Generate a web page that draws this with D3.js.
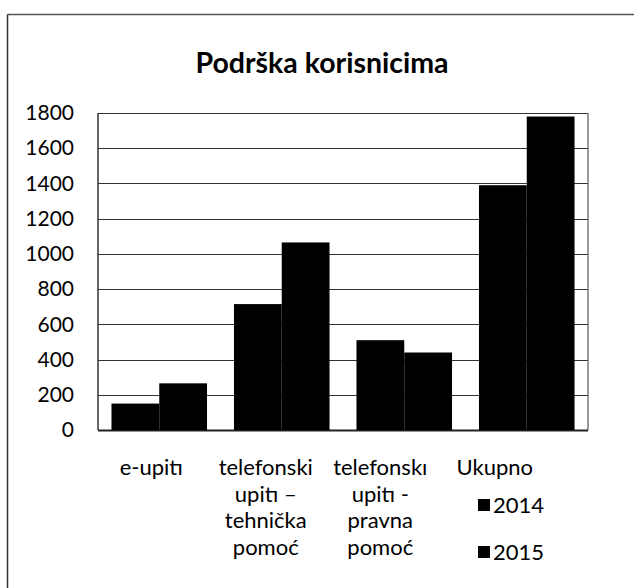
<!DOCTYPE html>
<html>
<head>
<meta charset="utf-8">
<script src="https://cdn.jsdelivr.net/npm/d3@7"></script>
<style>
body{margin:0;background:#fff;}
svg{display:block;font-family:Lato,"Noto Sans",sans-serif;}
</style>
</head>
<body>
<div id="chart"></div>
<script>
var categories=["e-upiti","telefonski upiti – tehnička pomoć","telefonski upiti - pravna pomoć","Ukupno"];
var labelLines=[["e-upitı"],["telefonski","upitı –","tehnička","pomoć"],["telefonskı","upitı -","pravna","pomoć"],["Ukupno"]];
var years=["2014","2015"];
var values2014=[150,715,510,1390];
var values2015=[265,1065,440,1780];
var yTicks=[0,200,400,600,800,1000,1200,1400,1600,1800];

var width=635,height=588;
var plot={left:98,right:588,top:113,bottom:430};

var svg=d3.select("#chart").append("svg")
	.attr("width",width)
	.attr("height",height);

// frame of the scanned chart (top and left edges only)
svg.append("line").attr("x1",7.5).attr("x2",634).attr("y1",14.5).attr("y2",14.5)
	.attr("stroke","#555").attr("stroke-width",1.5);
svg.append("line").attr("x1",7.5).attr("x2",7.5).attr("y1",14.5).attr("y2",588)
	.attr("stroke","#333").attr("stroke-width",1.5);

svg.append("text")
	.attr("x",322)
	.attr("y",73)
	.attr("text-anchor","middle")
	.attr("font-size",28.5)
	.attr("font-weight","bold")
	.attr("fill","#000")
	.text("Podrška korisnicima");

var x=d3.scaleBand().domain(categories).range([plot.left,plot.right]).paddingInner(0.22).paddingOuter(0.11);
var xSub=d3.scaleBand().domain(years).range([0,x.bandwidth()]);
var y=d3.scaleLinear().domain([0,1800]).range([plot.bottom,plot.top]);
// the category labels sit a little left of the groups in the original
var xLabel=d3.scaleBand().domain(categories).range([94,552]);

// gridlines
svg.append("g")
	.selectAll("line")
	.data(yTicks)
	.enter().append("line")
	.attr("x1",plot.left)
	.attr("x2",plot.right)
	.attr("y1",function(d){return Math.round(y(d))+0.5;})
	.attr("y2",function(d){return Math.round(y(d))+0.5;})
	.attr("stroke",function(d){return d==0?"#222":"#333";})
	.attr("stroke-width",function(d){return d==0?2:1.2;});

// plot sides
svg.append("line").attr("x1",plot.left).attr("x2",plot.left).attr("y1",plot.top).attr("y2",plot.bottom)
	.attr("stroke","#333").attr("stroke-width",1.5);
svg.append("line").attr("x1",plot.right).attr("x2",plot.right).attr("y1",plot.top).attr("y2",plot.bottom)
	.attr("stroke","#555").attr("stroke-width",1.2);

// y axis labels
var yAxis=d3.axisLeft(y).tickValues(yTicks).tickFormat(d3.format("d")).tickSize(0).tickPadding(24);
var yg=svg.append("g").attr("transform","translate("+plot.left+",0)").call(yAxis);
yg.select(".domain").remove();
yg.selectAll("text")
	.attr("font-family","Lato,'Noto Sans',sans-serif")
	.attr("font-size",21)
	.attr("fill","#000");

// bars
var data=categories.map(function(c,i){return {cat:c,vals:[values2014[i],values2015[i]]};});
var groups=svg.append("g")
	.selectAll("g")
	.data(data)
	.enter().append("g")
	.attr("transform",function(d){return "translate("+x(d.cat)+",0)";});
groups.selectAll("rect")
	.data(function(d){return d.vals.map(function(v,j){return {year:years[j],value:v};});})
	.enter().append("rect")
	.attr("x",function(d){return xSub(d.year);})
	.attr("width",xSub.bandwidth())
	.attr("y",function(d){return y(d.value);})
	.attr("height",function(d){return y(0)-y(d.value);})
	.attr("fill","#000");

// category labels
var labels=svg.append("g")
	.selectAll("text")
	.data(categories)
	.enter().append("text")
	.attr("x",function(d){return xLabel(d)+xLabel.bandwidth()/2;})
	.attr("y",475)
	.attr("text-anchor","middle")
	.attr("font-size",22)
	.attr("fill","#000");
labels.selectAll("tspan")
	.data(function(d,i){return labelLines[i];})
	.enter().append("tspan")
	.attr("x",function(){return d3.select(this.parentNode).attr("x");})
	.attr("dy",function(d,i){return i==0?0:26.5;})
	.text(function(d){return d;});

// legend
var legend=svg.append("g")
	.selectAll("g")
	.data(years)
	.enter().append("g")
	.attr("transform",function(d,i){return "translate(478,"+(505+i*47)+")";});
legend.append("rect")
	.attr("x",0).attr("y",-6)
	.attr("width",12).attr("height",12)
	.attr("fill","#000");
legend.append("text")
	.attr("x",15).attr("y",8)
	.attr("font-size",22)
	.attr("fill","#000")
	.text(function(d){return d;});
</script>
</body>
</html>
